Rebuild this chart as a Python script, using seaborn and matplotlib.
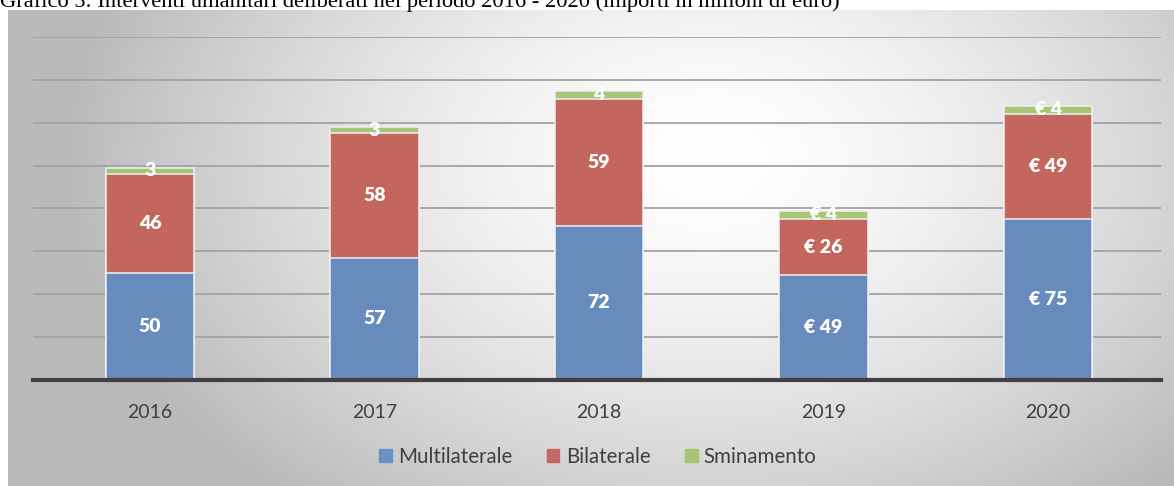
import numpy as np
import pandas as pd
import matplotlib
matplotlib.use("Agg")
import matplotlib.pyplot as plt
import seaborn as sns

# Data (milioni di euro)
years = ["2016", "2017", "2018", "2019", "2020"]
multilaterale = [50, 57, 72, 49, 75]
bilaterale = [46, 58, 59, 26, 49]
sminamento = [3, 3, 4, 4, 4]
euro_sign = [False, False, False, True, True]  # later years are labelled with "€ "

series_names = ["Multilaterale", "Bilaterale", "Sminamento"]
colors = ["#618FC5", "#C65F5D", "#A2C46B"]

title = "Grafico 5: Interventi umanitari deliberati nel periodo 2016 - 2020 (importi in milioni di euro)"

sns.set_style("white")
plt.rcParams["font.family"] = ["Lato", "DejaVu Sans"]

W, H = 1174, 486
fig = plt.figure(figsize=(W / 100, H / 100), dpi=100)

# radial gradient background of the chart frame
bg = fig.add_axes([8 / W, 0, 1 - 8 / W, (H - 10) / H], zorder=0)
yy, xx = np.mgrid[0:476, 0:1166]
dist = np.sqrt(((xx - 700) / 640.0) ** 2 + ((yy - 150) / 440.0) ** 2)
shade = 1.0 - 0.27 * np.clip(dist, 0, 1) ** 1.5
bg.imshow(np.dstack([shade] * 3), aspect="auto", interpolation="bilinear")
bg.set_axis_off()

ax = fig.add_axes([33 / W, (H - 380) / H, (1161 - 33) / W, (380 - 37) / H], zorder=1)
ax.patch.set_alpha(0)

# stacked bars via cumulative heights, tallest first
df = pd.DataFrame({"anno": years, "m": multilaterale, "b": bilaterale, "s": sminamento})
df["mb"] = df["m"] + df["b"]
df["tot"] = df["mb"] + df["s"]
for col, c in zip(["tot", "mb", "m"], colors[::-1]):
    sns.barplot(data=df, x="anno", y=col, color=c, width=0.395, saturation=1,
                edgecolor="#EDEFF3", linewidth=1.2, alpha=0.93, ax=ax, zorder=3)

# value labels in the middle of each segment
for i in range(len(years)):
    pre = "€ " if euro_sign[i] else ""
    lows = [0, df["m"][i], df["mb"][i]]
    vals = [multilaterale[i], bilaterale[i], sminamento[i]]
    for lo, v in zip(lows, vals):
        ax.text(i, lo + v / 2, f"{pre}{v}", ha="center", va="center", color="white",
                fontsize=14, fontweight="heavy", zorder=5)

ax.set_xlim(-0.521, 4.503)
ax.set_ylim(0, 160)
ax.set_yticks(np.arange(0, 161, 20))
ax.yaxis.grid(True, color="#A3A3A3", linewidth=1.3)
ax.set_axisbelow(True)
ax.set_yticklabels([])
ax.tick_params(axis="y", length=0)
ax.tick_params(axis="x", length=0, labelsize=14, labelcolor="#404040", pad=17)
ax.set_xlabel("")
ax.set_ylabel("")
for sp in ["top", "right", "left"]:
    ax.spines[sp].set_visible(False)
ax.spines["bottom"].set_color("#404040")
ax.spines["bottom"].set_linewidth(3)
ax.spines["bottom"].set_zorder(6)

handles = [plt.Rectangle((0, 0), 1, 1, color=c, alpha=0.93) for c in colors]
fig.legend(handles, series_names, loc="center", bbox_to_anchor=(598 / W, 1 - 457 / H),
           ncol=3, frameon=False, fontsize=14.8, handlelength=0.6, handleheight=0.6,
           handletextpad=0.3, columnspacing=1.7, labelcolor="#404040")

fig.text(0, 1 - 7 / H, title, ha="left", va="baseline", fontsize=16.2,
         family=["Liberation Serif"], color="black")

fig.savefig("out.png", dpi=100)
